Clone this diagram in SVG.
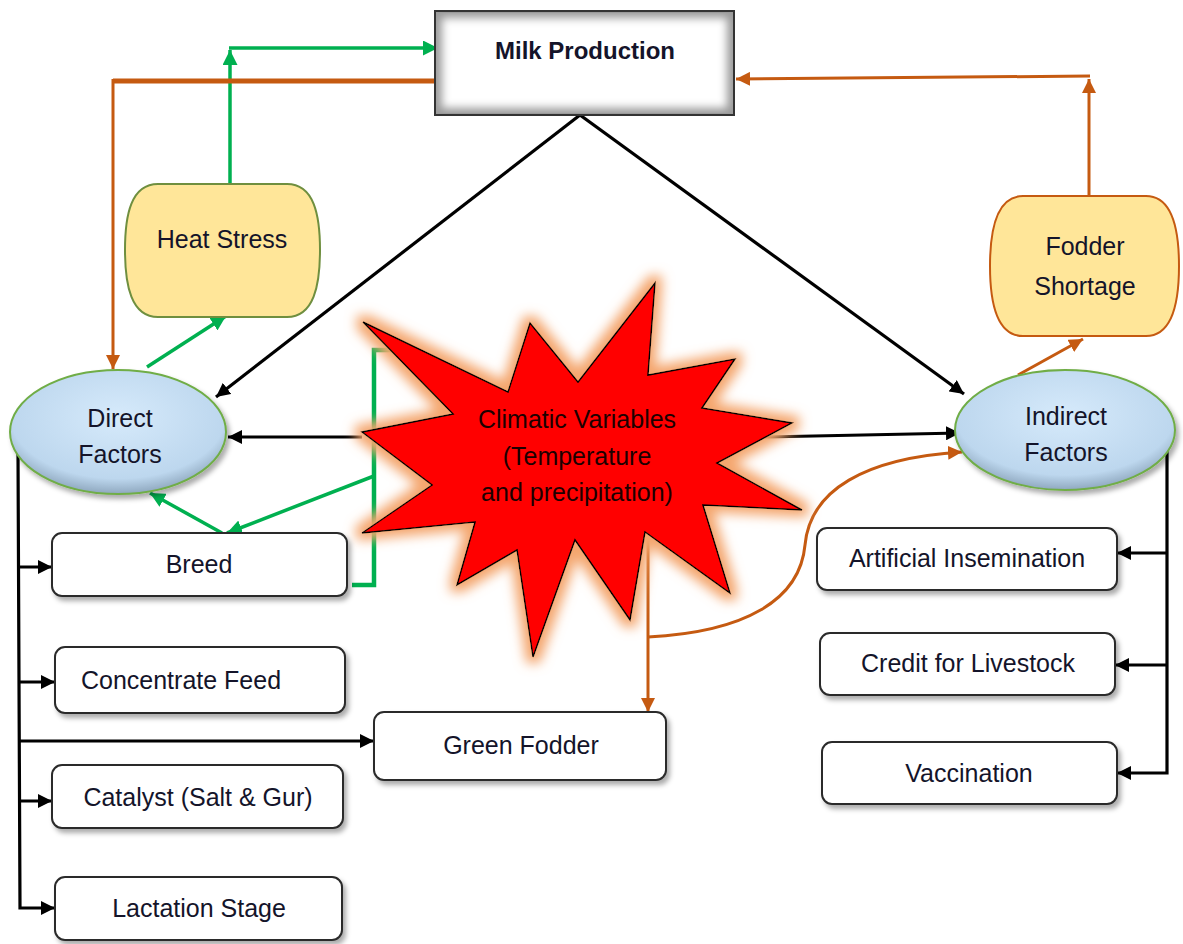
<svg xmlns="http://www.w3.org/2000/svg" width="1183" height="944" viewBox="0 0 1183 944">
<style>
  text { font-family: "Liberation Sans", Arial, sans-serif; font-size: 25px; fill: #14142a; text-anchor: middle; }
  .box { fill: #ffffff; stroke: #2b2b2b; stroke-width: 2; filter: url(#shadow); }
  .oval { fill: url(#blue); stroke: #70AD47; stroke-width: 2; filter: url(#shadow); }
  .disp { fill: #FFE699; stroke-width: 2; }
  .k { stroke: #000; stroke-width: 3.2; fill: none; }
  .g { stroke: #00B050; stroke-width: 3.5; fill: none; }
  .o { stroke: #C55A11; stroke-width: 3; fill: none; }
  .star-t { fill: #1c0000; font-size: 25px; }
</style>
<defs>
  <filter id="shadow" x="-10%" y="-10%" width="130%" height="140%">
    <feDropShadow dx="3" dy="4" stdDeviation="2.5" flood-color="#000" flood-opacity="0.33"/>
  </filter>
  <filter id="glow" x="-20%" y="-20%" width="140%" height="140%">
    <feMorphology in="SourceAlpha" operator="dilate" radius="6" result="d"/>
    <feGaussianBlur in="d" stdDeviation="6" result="b"/>
    <feFlood flood-color="#F4A66E" flood-opacity="1"/>
    <feComposite in2="b" operator="in" result="gl"/>
    <feMerge><feMergeNode in="gl"/><feMergeNode in="SourceGraphic"/></feMerge>
  </filter>
  <filter id="inner" x="-5%" y="-5%" width="110%" height="110%">
    <feGaussianBlur stdDeviation="4"/>
  </filter>
  <clipPath id="mpclip"><rect x="435" y="11" width="299" height="104"/></clipPath>
  <radialGradient id="blue" cx="50%" cy="38%" r="62%">
    <stop offset="0" stop-color="#D6EAFB"/>
    <stop offset="0.8" stop-color="#BDD7EE"/>
    <stop offset="1" stop-color="#8FA8BF"/>
  </radialGradient>
  <marker id="ak" viewBox="0 0 10 10" refX="10" refY="5" markerWidth="14" markerHeight="14" markerUnits="userSpaceOnUse" orient="auto"><path d="M0,0 L10,5 L0,10 Z" fill="#000"/></marker>
  <marker id="ag" viewBox="0 0 10 10" refX="10" refY="5" markerWidth="15" markerHeight="15" markerUnits="userSpaceOnUse" orient="auto"><path d="M0,0 L10,5 L0,10 Z" fill="#00B050"/></marker>
  <marker id="ao" viewBox="0 0 10 10" refX="10" refY="5" markerWidth="14" markerHeight="14" markerUnits="userSpaceOnUse" orient="auto"><path d="M0,0 L10,5 L0,10 Z" fill="#C55A11"/></marker>
</defs>

<g id="connectors">
  <path class="g" d="M230,184 V50" marker-end="url(#ag)"/>
  <path class="g" d="M229,48 H438" marker-end="url(#ag)"/>
  <path class="o" d="M435,81 H113" style="stroke-width:5"/>
  <path class="o" d="M113,79 V369" marker-end="url(#ao)"/>
  <path class="o" d="M1089,196 V79" marker-end="url(#ao)"/>
  <path class="o" d="M1090,76 L736,79" marker-end="url(#ao)"/>
  <path class="k" d="M580,115 L216,397" marker-end="url(#ak)"/>
  <path class="k" d="M580,115 L964,394" marker-end="url(#ak)"/>
  <path class="k" d="M362,437 H228" marker-end="url(#ak)"/>
  <path class="k" d="M765,437 L960,433" marker-end="url(#ak)"/>
  <path class="g" d="M147,367 L226,316" marker-end="url(#ag)"/>
  <path class="g" d="M395,350 H374 V585 H352" style="stroke-width:4.5"/>
  <path class="g" d="M374,476 L227,533" marker-end="url(#ag)"/>
  <path class="g" d="M222,533 L150,493" marker-end="url(#ag)"/>
  <path class="k" d="M18,452 L20,908 H55" marker-end="url(#ak)"/>
  <path class="k" d="M19,567 H52" marker-end="url(#ak)"/>
  <path class="k" d="M19,682 H55" marker-end="url(#ak)"/>
  <path class="k" d="M19,741 H374" marker-end="url(#ak)"/>
  <path class="k" d="M19,801 H52" marker-end="url(#ak)"/>
  <path class="o" d="M648,532 V712" marker-end="url(#ao)"/>
  <path class="o" d="M648,637 C745,632 800,600 805,545 C810,490 865,458 962,452" marker-end="url(#ao)"/>
  <path class="o" d="M1018,375 L1083,339" marker-end="url(#ao)"/>
  <path class="k" d="M1167,443 V773 H1117" marker-end="url(#ak)"/>
  <path class="k" d="M1167,553 H1117" marker-end="url(#ak)"/>
  <path class="k" d="M1167,665 H1115" marker-end="url(#ak)"/>
</g>

<g id="milk-production">
  <g clip-path="url(#mpclip)">
    <rect x="435" y="11" width="299" height="104" fill="#9a9a9a"/>
    <rect x="442" y="18" width="285" height="90" fill="#ffffff" filter="url(#inner)"/>
  </g>
  <rect x="435" y="11" width="299" height="104" fill="none" stroke="#333" stroke-width="2"/>
  <text x="585" y="59" style="font-weight:bold;font-size:24px">Milk Production</text>
</g>

<g id="heat-stress">
  <path class="disp" stroke="#6F8F3F" d="M158,184 H287 C314,184 320,215 320,250 C320,285 314,317 287,317 H158 C131,317 125,285 125,250 C125,215 131,184 158,184 Z"/>
  <text x="222" y="248">Heat Stress</text>
</g>

<g id="fodder-shortage">
  <path class="disp" stroke="#C55A11" d="M1023,196 H1146 C1173,196 1179,230 1179,266 C1179,302 1173,336 1146,336 H1023 C996,336 990,302 990,266 C990,230 996,196 1023,196 Z"/>
  <text x="1085" y="255">Fodder</text>
  <text x="1085" y="295">Shortage</text>
</g>

<g id="climatic-variables">
  <path fill="#FF0000" stroke="#000" stroke-width="1.5" filter="url(#glow)" d="M363,322 L508,392 L530,323 L578,382 L655,283 L648,375 L735,359 L702,408 L792,423 L717,463 L802,510 L703,505 L730,593 L645,532 L630,620 L575,540 L533,657 L517,550 L457,585 L475,522 L362,533 L432,485 L362,432 L453,414 Z"/>
  <text class="star-t" x="577" y="428">Climatic Variables</text>
  <text class="star-t" x="577" y="465">(Temperature</text>
  <text class="star-t" x="577" y="501">and precipitation)</text>
</g>

<g id="direct-factors">
  <ellipse class="oval" cx="118" cy="432" rx="108" ry="62"/>
  <text x="120" y="427">Direct</text>
  <text x="120" y="463">Factors</text>
</g>

<g id="indirect-factors">
  <ellipse class="oval" cx="1065" cy="430" rx="110" ry="60"/>
  <text x="1066" y="425">Indirect</text>
  <text x="1066" y="461">Factors</text>
</g>

<g id="breed">
  <rect class="box" x="52" y="533" width="295" height="63" rx="10"/>
  <text x="199" y="573">Breed</text>
</g>
<g id="concentrate-feed">
  <rect class="box" x="55" y="647" width="290" height="66" rx="10"/>
  <text x="181" y="689">Concentrate Feed</text>
</g>
<g id="green-fodder">
  <rect class="box" x="374" y="712" width="292" height="68" rx="10"/>
  <text x="521" y="754">Green Fodder</text>
</g>
<g id="catalyst">
  <rect class="box" x="52" y="765" width="291" height="63" rx="10"/>
  <text x="198" y="806">Catalyst (Salt &amp; Gur)</text>
</g>
<g id="lactation-stage">
  <rect class="box" x="55" y="877" width="287" height="63" rx="10"/>
  <text x="199" y="917">Lactation Stage</text>
</g>
<g id="artificial-insemination">
  <rect class="box" x="817" y="528" width="300" height="62" rx="10"/>
  <text x="967" y="567">Artificial Insemination</text>
</g>
<g id="credit-livestock">
  <rect class="box" x="820" y="633" width="295" height="62" rx="10"/>
  <text x="968" y="672">Credit for Livestock</text>
</g>
<g id="vaccination">
  <rect class="box" x="822" y="742" width="295" height="62" rx="10"/>
  <text x="969" y="782">Vaccination</text>
</g>
</svg>
